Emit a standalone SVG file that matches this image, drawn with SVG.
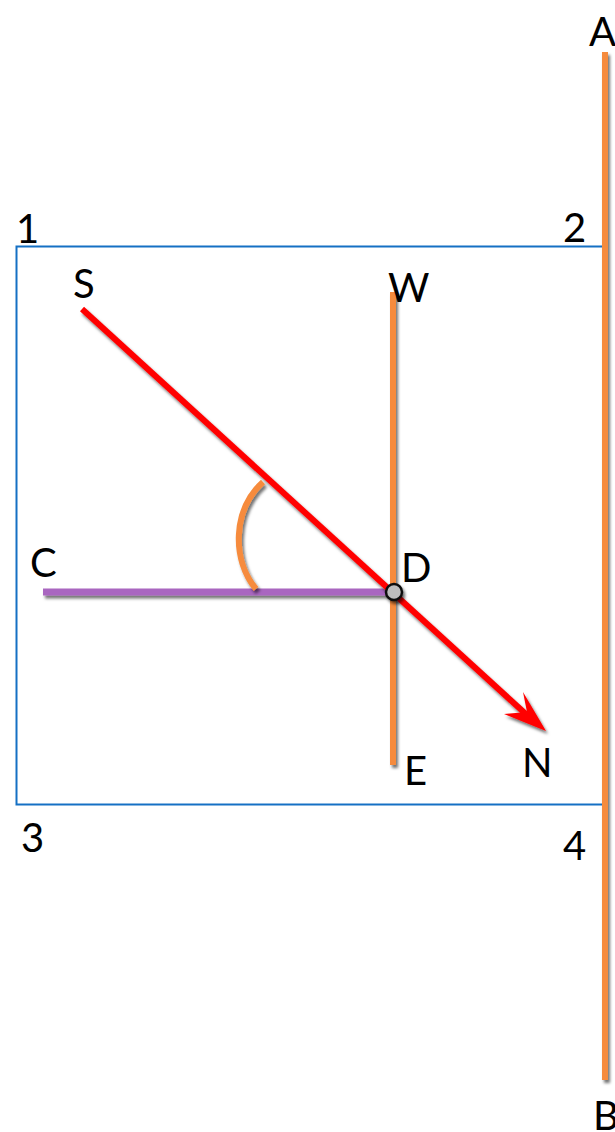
<svg xmlns="http://www.w3.org/2000/svg" width="615" height="1132" viewBox="0 0 615 1132">
<defs>
<filter id="sh" filterUnits="userSpaceOnUse" x="0" y="0" width="615" height="1132">
<feDropShadow dx="2" dy="3" stdDeviation="1.8" flood-color="#000" flood-opacity="0.55"/>
</filter>
<style>
.lbl{font-family:Lato,"Open Sans",sans-serif;font-size:40px;fill:#000}
.or{stroke:#F68B3C;stroke-width:6;fill:none}
</style>
</defs>
<g id="frame">
<rect x="16.5" y="246.5" width="588" height="558" fill="none" stroke="#1570C4" stroke-width="2"/>
</g>
<g id="connectors">
<line id="AB" class="or" x1="605" y1="52" x2="605" y2="1080" filter="url(#sh)"/>
<line id="WE" class="or" x1="393" y1="292" x2="393" y2="765" filter="url(#sh)"/>
<line id="CD" x1="43" y1="592" x2="393" y2="592" stroke="#A966C0" stroke-width="7" filter="url(#sh)"/>
<g id="SN" filter="url(#sh)">
<line x1="82" y1="309" x2="528" y2="716" stroke="#FF0000" stroke-width="6"/>
<path d="M546,731 L523,692 L527,712 L504,714 Z" fill="#FF0000"/>
</g>
<path id="angle" d="M263,482 C232,510 232,560 256,589" class="or" stroke-width="5" filter="url(#sh)"/>
</g>
<g id="D-point">
<circle cx="394" cy="592" r="8" fill="#BDBDBD" stroke="#111" stroke-width="2.5" filter="url(#sh)"/>
</g>
<g id="labels">
<text class="lbl" x="16" y="243">1</text>
<text class="lbl" x="563" y="242">2</text>
<text class="lbl" x="21" y="852">3</text>
<text class="lbl" x="563" y="860">4</text>
<text class="lbl" x="589" y="46">A</text>
<text class="lbl" x="593" y="1130">B</text>
<text class="lbl" x="73" y="298">S</text>
<text class="lbl" x="388" y="302">W</text>
<text class="lbl" x="30" y="577">C</text>
<text class="lbl" x="401" y="582">D</text>
<text class="lbl" x="522" y="777">N</text>
<text class="lbl" x="404" y="785">E</text>
</g>
</svg>
